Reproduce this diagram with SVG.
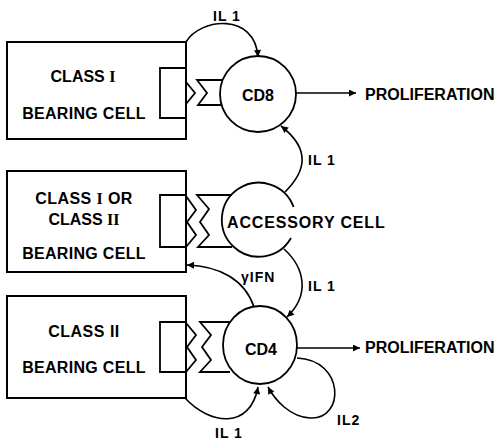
<svg xmlns="http://www.w3.org/2000/svg" width="498" height="442" viewBox="0 0 498 442">
<style>
  .box { fill: none; stroke: #000; stroke-width: 2; }
  .cell { fill: #fff; stroke: #000; stroke-width: 1.8; }
  .rec { fill: none; stroke: #000; stroke-width: 1.8; stroke-linejoin: miter; }
  .con { fill: none; stroke: #000; stroke-width: 1.6; marker-end: url(#ah); }
  text { font-family: "Liberation Sans", Arial, sans-serif; font-weight: bold; fill: #000; }
  .t { font-size: 16px; }
  .lab { font-size: 14px; letter-spacing: 1px; }
  .mid { text-anchor: middle; }
  .rn { font-family: "Liberation Serif", "Times New Roman", serif; }
</style>
<defs>
  <marker id="ah" viewBox="0 0 10 10" refX="10" refY="5" markerUnits="userSpaceOnUse" markerWidth="9" markerHeight="7" orient="auto">
    <path d="M0,0 L10,5 L0,10 z" fill="#000"/>
  </marker>
</defs>

<g id="box-class1">
  <path class="box" d="M186,42 L7,42 L7,139 L186,139 Z"/>
  <path class="rec" d="M186,68 L160,68 L160,118 L186,118"/>
  <path class="rec" d="M186,82 L195,93 L186,104"/>
  <text class="t mid" x="83" y="82">CLASS <tspan class="rn">I</tspan></text>
  <text class="t mid" x="84" y="119" letter-spacing="0.3">BEARING CELL</text>
</g>

<g id="box-class1or2">
  <path class="box" d="M186,171 L7,171 L7,272 L186,272 Z"/>
  <path class="rec" d="M186,195 L160,195 L160,247 L186,247"/>
  <path class="rec" d="M186,196 L196,210 L187,222 L196,235 L186,247"/>
  <text class="t mid" x="84" y="204" letter-spacing="0.4">CLASS <tspan class="rn">I</tspan> OR</text>
  <text class="t mid" x="84" y="225">CLASS <tspan class="rn">II</tspan></text>
  <text class="t mid" x="84" y="259" letter-spacing="0.3">BEARING CELL</text>
</g>

<g id="box-class2">
  <path class="box" d="M186,296 L7,296 L7,398 L186,398 Z"/>
  <path class="rec" d="M186,322 L160,322 L160,372 L186,372"/>
  <path class="rec" d="M186,323 L196,335 L187,347 L196,360 L186,372"/>
  <text class="t mid" x="84" y="337" letter-spacing="0.5">CLASS II</text>
  <text class="t mid" x="84" y="373" letter-spacing="0.3">BEARING CELL</text>
</g>

<g id="cd8">
  <circle class="cell" cx="258" cy="94" r="38"/>
  <path class="rec" d="M223,80 L197,80 L207,93 L198,105 L222,105"/>
  <text class="t mid" x="258" y="101">CD8</text>
</g>

<g id="accessory">
  <path class="cell" d="M293.6,207 A37,37 0 1 0 291,238" fill="none"/>
  <path class="rec" d="M232,195 L197,195 L209,209 L200,222 L209,235 L198,247 L232,247"/>
  <text class="t" x="227" y="228" letter-spacing="0.85">ACCESSORY CELL</text>
</g>

<g id="cd4">
  <ellipse class="cell" cx="260" cy="345" rx="37" ry="39"/>
  <path class="rec" d="M230,322 L200,322 L211,335 L202,347 L211,360 L200,372 L230,372"/>
  <text class="t mid" x="261" y="355">CD4</text>
</g>

<g id="proliferation-1">
  <text class="t" x="365" y="100">PROLIFERATION</text>
</g>
<g id="proliferation-2">
  <text class="t" x="365" y="353">PROLIFERATION</text>
</g>

<g id="connectors">
  <path class="con" d="M186,42 C200,18 255,12 258,57"/>
  <path class="con" d="M296,93 L356,93"/>
  <path class="con" d="M285,192 C305,172 312,150 281,126"/>
  <path class="con" d="M284,249 C305,268 310,295 287,317"/>
  <path class="con" d="M254,307 C245,280 220,266 187,265"/>
  <path class="con" d="M297,348 L360,348"/>
  <path class="con" d="M185,398 C210,425 250,430 258,387"/>
  <path class="con" d="M297,358 C345,360 345,420 310,418 C290,417 275,400 268,387"/>
  <text class="lab" x="213" y="21">IL 1</text>
  <text class="lab" x="308" y="165">IL 1</text>
  <text class="lab" x="241" y="282">γIFN</text>
  <text class="lab" x="308" y="291">IL 1</text>
  <text class="lab" x="215" y="438">IL 1</text>
  <text class="lab" x="337" y="425">IL2</text>
</g>
</svg>
